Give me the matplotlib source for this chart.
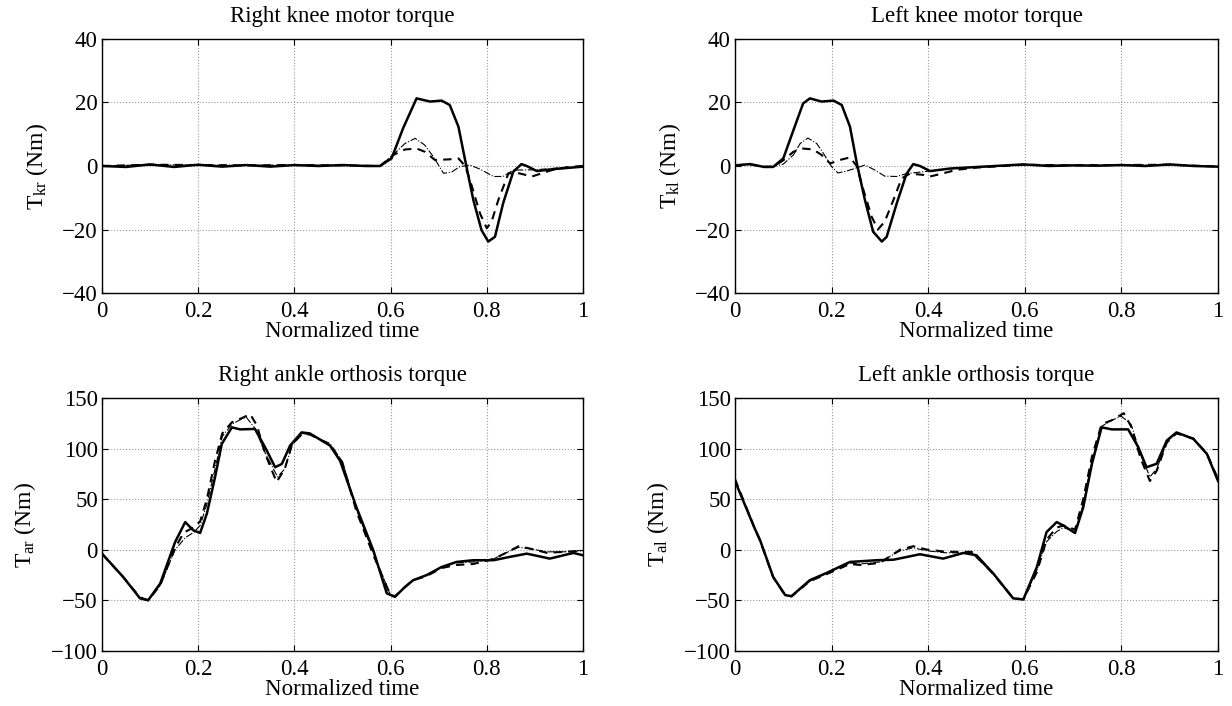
import numpy as np
import matplotlib
matplotlib.use("Agg")
import matplotlib.pyplot as plt

plt.rcParams["font.family"] = ["Liberation Serif", "DejaVu Serif"]
plt.rcParams["mathtext.fontset"] = "custom"
plt.rcParams["mathtext.rm"] = "Liberation Serif"
plt.rcParams["mathtext.it"] = "Liberation Serif:italic"

# ---- Right knee motor torque (top left) ----
kr_x_solid = [0, 0.05, 0.1, 0.15, 0.2, 0.25, 0.3, 0.35, 0.4, 0.45, 0.5, 0.55, 0.578,
              0.602, 0.626, 0.654, 0.682, 0.706, 0.723, 0.741, 0.757, 0.772, 0.789,
              0.803, 0.817, 0.834, 0.855, 0.872, 0.883, 0.904, 0.945, 1.0]
kr_solid = [0, -0.3, 0.5, -0.3, 0.4, -0.2, 0.3, -0.2, 0.3, 0, 0.3, 0, 0,
            2.4, 11.9, 21.3, 20.3, 20.6, 19.2, 12.4, 0.3, -10.7, -20.2,
            -23.8, -22.3, -11.7, -1.8, 0.6, 0, -1.6, -0.9, -0.2]
kr_x_dash = [0, 0.1, 0.2, 0.3, 0.4, 0.5, 0.578, 0.606, 0.63, 0.654, 0.671, 0.692,
             0.723, 0.741, 0.755, 0.765, 0.786, 0.8, 0.81, 0.824, 0.845, 0.867,
             0.894, 0.935, 0.97, 1.0]
kr_dash = [0, 0.4, 0.3, 0.2, 0.3, 0.2, 0, 3.5, 5.2, 5.5, 4.5, 1.9,
           2.1, 2.4, 0, -4.4, -15, -19.6, -17.5, -10.7, -2.3, -2.3,
           -3.3, -1.3, -0.3, 0]
kr_x_dot = [0, 0.1, 0.2, 0.3, 0.4, 0.5, 0.578, 0.605, 0.63, 0.651, 0.671, 0.689,
            0.71, 0.727, 0.744, 0.765, 0.786, 0.814, 0.834, 0.855, 0.9, 0.95, 1.0]
kr_dot = [0, 0.4, 0.3, 0.2, 0.3, 0.2, 0, 3.5, 7.1, 8.7, 6.6, 2.9,
          -2.3, -1.9, -0.2, 0.3, -1, -3.3, -3.3, -1.3, -1.2, -0.6, -0.2]

# ---- Left knee motor torque (top right) ----
kl_x_solid = [0, 0.031, 0.06, 0.079, 0.1, 0.121, 0.141, 0.155, 0.179, 0.204, 0.221,
              0.238, 0.253, 0.269, 0.286, 0.304, 0.314, 0.335, 0.355, 0.369, 0.383,
              0.404, 0.445, 0.514, 0.55, 0.597, 0.65, 0.7, 0.75, 0.8, 0.85, 0.9,
              0.95, 1.0]
kl_solid = [0.2, 0.6, -0.3, -0.3, 2.4, 11.3, 19.7, 21.3, 20.3, 20.6, 19.2,
            12.4, 0.3, -10.7, -20.7, -23.8, -22.3, -11.7, -2.5, 0.6, 0,
            -1.6, -0.8, -0.2, 0.1, 0.5, 0, 0.2, 0.1, 0.3, 0, 0.5,
            0, -0.2]
kl_x_dash = [0, 0.031, 0.06, 0.079, 0.1, 0.121, 0.141, 0.162, 0.179, 0.197, 0.217,
             0.238, 0.252, 0.266, 0.283, 0.296, 0.31, 0.328, 0.345, 0.362, 0.39,
             0.404, 0.431, 0.459, 0.5, 0.6, 0.7, 0.8, 0.9, 1.0]
kl_dash = [0.2, 0.5, -0.2, -0.2, 1.8, 4.5, 5.5, 5.2, 3.5, 0.8, 1.9,
           2.7, 0, -7.6, -16, -20, -17.5, -10.7, -3.9, -2.4, -2.8,
           -3.3, -2.3, -1.2, -0.5, 0.4, 0.2, 0.3, 0.4, -0.2]
kl_x_dot = [0, 0.031, 0.06, 0.079, 0.1, 0.121, 0.135, 0.151, 0.169, 0.183, 0.2,
            0.213, 0.231, 0.252, 0.269, 0.29, 0.31, 0.335, 0.355, 0.39, 0.45,
            0.5, 0.6, 0.7, 0.8, 0.9, 1.0]
kl_dot = [0.2, 0.5, -0.2, -0.2, 0.6, 3.5, 7.1, 8.8, 7.1, 4, -0.2,
          -2.2, -1.6, -0.6, 0.3, -1.3, -3.2, -3.3, -2.4, -1.8, -0.8,
          -0.4, 0.4, 0.2, 0.3, 0.4, -0.2]

# ---- Right ankle orthosis torque (bottom left) ----
ar_x_solid = [0, 0.044, 0.079, 0.096, 0.121, 0.152, 0.173, 0.19, 0.204, 0.218, 0.235,
              0.249, 0.27, 0.287, 0.318, 0.339, 0.36, 0.374, 0.391, 0.415, 0.432,
              0.474, 0.495, 0.529, 0.564, 0.592, 0.609, 0.63, 0.647, 0.675, 0.706,
              0.737, 0.772, 0.814, 0.848, 0.883, 0.931, 0.98, 1.0]
ar_solid = [-3.8, -26.8, -48, -49.8, -33.3, 7.7, 27.4, 19.2, 16.6, 35.7, 71.7,
            104.6, 121, 119, 119.4, 101.3, 81.6, 84.9, 103, 116, 115,
            103, 88, 42, -0.5, -43, -46.5, -36.6, -30, -25, -17,
            -12, -10.3, -10.3, -7, -3.8, -8.7, -3.1, -5.4]
ar_x_dash = [0, 0.044, 0.079, 0.096, 0.121, 0.152, 0.17, 0.19, 0.204, 0.218, 0.235,
             0.25, 0.27, 0.29, 0.308, 0.322, 0.339, 0.363, 0.38, 0.395, 0.415,
             0.432, 0.474, 0.5, 0.529, 0.564, 0.599, 0.609, 0.63, 0.647, 0.675,
             0.706, 0.737, 0.772, 0.814, 0.84, 0.866, 0.89, 0.925, 0.96, 1.0]
ar_dash = [-4, -27, -47, -50, -35, 2, 17, 22, 28, 50, 88,
           115, 126, 130, 134, 123, 95, 67, 80, 104, 114,
           114, 104, 86, 38, -5, -44, -46, -37, -30, -26,
           -18, -15, -14, -9, -3, 3.5, 1.2, -3, -2, -1]
ar_x_dot = [0, 0.044, 0.079, 0.096, 0.121, 0.152, 0.173, 0.19, 0.204, 0.218, 0.235,
            0.25, 0.27, 0.285, 0.3, 0.318, 0.339, 0.365, 0.38, 0.395, 0.415,
            0.432, 0.474, 0.5, 0.529, 0.564, 0.599, 0.609, 0.63, 0.647, 0.675,
            0.706, 0.737, 0.772, 0.814, 0.84, 0.866, 0.89, 0.925, 0.96, 1.0]
ar_dot = [-4, -27, -47, -50, -35, 0, 12, 17, 24, 45, 80,
          112, 124, 128, 131, 120, 96, 72, 80, 103, 115,
          114, 105, 87, 40, -3, -44, -46, -37, -30, -25,
          -17, -13, -12, -9, -3, 2.5, 1, -2, -2, -1]

# ---- Left ankle orthosis torque (bottom right) ----
al_x_solid = [0, 0.02, 0.04, 0.052, 0.079, 0.104, 0.117, 0.155, 0.19, 0.238, 0.293,
              0.328, 0.383, 0.431, 0.473, 0.5, 0.535, 0.576, 0.597, 0.625, 0.645,
              0.666, 0.68, 0.704, 0.721, 0.739, 0.759, 0.78, 0.814, 0.835, 0.852,
              0.873, 0.894, 0.914, 0.949, 0.977, 1.0]
al_solid = [68, 45, 22, 9.4, -26.8, -44.8, -45.8, -30, -22.8, -12, -10.3,
            -9.8, -4.4, -8.7, -3.1, -5.4, -23.5, -48, -49, -17, 17.5,
            27.4, 24, 16.6, 42, 85, 121, 119, 119, 101.3, 81.6,
            85, 108, 116, 109.6, 94.8, 68]
al_x_dash = [0, 0.02, 0.04, 0.052, 0.079, 0.104, 0.117, 0.155, 0.19, 0.238, 0.259,
             0.3, 0.342, 0.369, 0.397, 0.438, 0.49, 0.535, 0.576, 0.597, 0.625,
             0.645, 0.666, 0.68, 0.704, 0.721, 0.739, 0.759, 0.78, 0.805, 0.82,
             0.84, 0.859, 0.873, 0.894, 0.914, 0.949, 0.977, 1.0]
al_dash = [70, 46, 22, 9, -27, -45, -46, -31, -24, -14, -15,
           -13, 0.2, 3.5, 0.2, -2, -2, -24, -48, -49, -22, 10,
           22, 24, 20, 50, 92, 124, 128, 135, 122,
           90, 68, 78, 106, 115, 110, 95, 70]
al_x_dot = [0, 0.02, 0.04, 0.052, 0.079, 0.104, 0.117, 0.155, 0.19, 0.238, 0.259,
            0.3, 0.342, 0.369, 0.397, 0.438, 0.49, 0.535, 0.576, 0.597, 0.625,
            0.645, 0.666, 0.68, 0.704, 0.721, 0.739, 0.759, 0.78, 0.8, 0.82,
            0.84, 0.859, 0.873, 0.894, 0.914, 0.949, 0.977, 1.0]
al_dot = [69, 45, 22, 9, -27, -45, -46, -31, -23, -13, -14,
          -12, -1, 2, -1, -3, -3, -24, -48, -49, -20, 8,
          18, 22, 18, 45, 88, 122, 128, 132, 124,
          94, 72, 80, 106, 116, 110, 95, 69]

panels = [
    ("Right knee motor torque", r"T$_{\mathrm{kr}}$ (Nm)", (-40, 40), [-40, -20, 0, 20, 40],
     (kr_x_solid, kr_solid), (kr_x_dash, kr_dash), (kr_x_dot, kr_dot)),
    ("Left knee motor torque", r"T$_{\mathrm{kl}}$ (Nm)", (-40, 40), [-40, -20, 0, 20, 40],
     (kl_x_solid, kl_solid), (kl_x_dash, kl_dash), (kl_x_dot, kl_dot)),
    ("Right ankle orthosis torque", r"T$_{\mathrm{ar}}$ (Nm)", (-100, 150), [-100, -50, 0, 50, 100, 150],
     (ar_x_solid, ar_solid), (ar_x_dash, ar_dash), (ar_x_dot, ar_dot)),
    ("Left ankle orthosis torque", r"T$_{\mathrm{al}}$ (Nm)", (-100, 150), [-100, -50, 0, 50, 100, 150],
     (al_x_solid, al_solid), (al_x_dash, al_dash), (al_x_dot, al_dot)),
]

W, H = 1232, 706
boxes = [(102, 39, 481, 254), (735, 39, 483, 254),
         (102, 398, 481, 253), (735, 398, 483, 253)]

fig = plt.figure(figsize=(W / 100, H / 100), dpi=100)

for (title, ylab, ylim, yticks, solid, dash, dot), (l, t, w, h) in zip(panels, boxes):
    ax = fig.add_axes([l / W, 1 - (t + h) / H, w / W, h / H])
    ax.plot(dot[0], dot[1], color="black", linestyle="-.", linewidth=0.8)
    ax.plot(dash[0], dash[1], color="black", linestyle=(0, (4, 3)), linewidth=1.5)
    ax.plot(solid[0], solid[1], color="black", linestyle="-", linewidth=1.8)
    ax.set_xlim(0, 1)
    ax.set_ylim(*ylim)
    ax.set_xticks([0, 0.2, 0.4, 0.6, 0.8, 1])
    ax.set_xticklabels(["0", "0.2", "0.4", "0.6", "0.8", "1"])
    ax.set_yticks(yticks)
    ax.grid(True, linestyle=":", color="0.6", linewidth=0.8)
    ax.tick_params(direction="in", top=True, right=True, length=4, width=0.8,
                   labelsize=16.5)
    ax.tick_params(axis="x", pad=6)
    ax.tick_params(axis="y", pad=3)
    for sp in ax.spines.values():
        sp.set_linewidth(1.0)
    ax.set_title(title, fontsize=16.5, pad=12)
    ax.set_ylabel(ylab, fontsize=17, labelpad=9)
    ax.set_xlabel("Normalized time", fontsize=16.5, labelpad=-1)

fig.savefig("out.png", dpi=100)
